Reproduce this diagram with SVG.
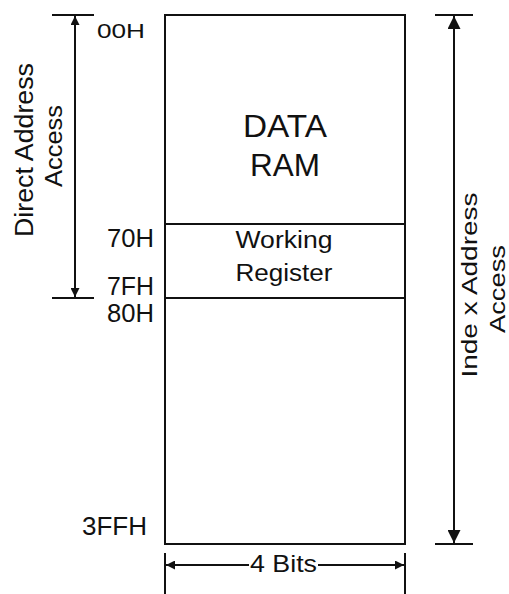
<svg xmlns="http://www.w3.org/2000/svg" width="509" height="594" viewBox="0 0 509 594">
<style>
.t{font-family:"Liberation Sans",Arial,sans-serif;fill:#111}
.ln{stroke:#111;stroke-width:2;fill:none}
</style>
<defs>
<marker id="ah" viewBox="0 0 10 10" refX="10" refY="5" markerWidth="10" markerHeight="9" markerUnits="userSpaceOnUse" orient="auto"><path d="M0,0 L10,5 L0,10 z" fill="#111"/></marker>
<marker id="ahL" viewBox="0 0 10 10" refX="10" refY="5" markerWidth="18" markerHeight="13" markerUnits="userSpaceOnUse" orient="auto"><path d="M0,0 L10,5 L0,10 z" fill="#111"/></marker>
</defs>
<rect width="509" height="594" fill="#fff"/>
<g id="memory">
<rect x="165" y="15" width="240" height="529" class="ln"/>
<line x1="165" y1="224" x2="405" y2="224" class="ln"/>
<line x1="165" y1="298" x2="405" y2="298" class="ln"/>
</g>
<g id="data-ram">
<text class="t" x="285" y="137" font-size="32" text-anchor="middle" textLength="84" lengthAdjust="spacingAndGlyphs">DATA</text>
<text class="t" x="285" y="176" font-size="31" text-anchor="middle" textLength="70" lengthAdjust="spacingAndGlyphs">RAM</text>
</g>
<g id="working-register">
<text class="t" x="284" y="248" font-size="23" text-anchor="middle" textLength="97" lengthAdjust="spacingAndGlyphs">Working</text>
<text class="t" x="284" y="281" font-size="23" text-anchor="middle" textLength="97" lengthAdjust="spacingAndGlyphs">Register</text>
</g>
<g id="addresses">
<text class="t" x="97" y="38" font-size="20" textLength="48" lengthAdjust="spacingAndGlyphs">00H</text>
<text class="t" x="107" y="247" font-size="25" textLength="47" lengthAdjust="spacingAndGlyphs">70H</text>
<text class="t" x="107" y="295" font-size="25" textLength="47" lengthAdjust="spacingAndGlyphs">7FH</text>
<text class="t" x="107" y="322" font-size="25" textLength="47" lengthAdjust="spacingAndGlyphs">80H</text>
<text class="t" x="82" y="535" font-size="25" textLength="65" lengthAdjust="spacingAndGlyphs">3FFH</text>
</g>
<g id="connectors">
<line x1="52" y1="15" x2="94" y2="15" class="ln"/>
<line x1="52" y1="298" x2="94" y2="298" class="ln"/>
<line x1="75" y1="156" x2="75" y2="16" class="ln" marker-end="url(#ah)"/>
<line x1="75" y1="156" x2="75" y2="297" class="ln" marker-end="url(#ah)"/>
<line x1="435" y1="15" x2="473" y2="15" class="ln"/>
<line x1="435" y1="544" x2="473" y2="544" class="ln"/>
<line x1="454" y1="280" x2="454" y2="16" class="ln" marker-end="url(#ahL)"/>
<line x1="454" y1="280" x2="454" y2="543" class="ln" marker-end="url(#ahL)"/>
<line x1="165" y1="553" x2="165" y2="594" class="ln"/>
<line x1="405" y1="553" x2="405" y2="594" class="ln"/>
<line x1="249" y1="565" x2="166" y2="565" class="ln" marker-end="url(#ah)"/>
<line x1="318" y1="565" x2="404" y2="565" class="ln" marker-end="url(#ah)"/>
</g>
<g id="labels">
<text class="t" transform="translate(33,150) rotate(-90)" font-size="25" text-anchor="middle" textLength="174" lengthAdjust="spacingAndGlyphs">Direct Address</text>
<text class="t" transform="translate(62,146) rotate(-90)" font-size="24" text-anchor="middle" textLength="82" lengthAdjust="spacingAndGlyphs">Access</text>
<text class="t" transform="translate(477,285) rotate(-90)" font-size="22" text-anchor="middle" textLength="185" lengthAdjust="spacingAndGlyphs">Inde x Address</text>
<text class="t" transform="translate(505,289) rotate(-90)" font-size="22" text-anchor="middle" textLength="88" lengthAdjust="spacingAndGlyphs">Access</text>
<text class="t" x="250" y="572" font-size="24" textLength="67" lengthAdjust="spacingAndGlyphs">4 Bits</text>
</g>
</svg>
